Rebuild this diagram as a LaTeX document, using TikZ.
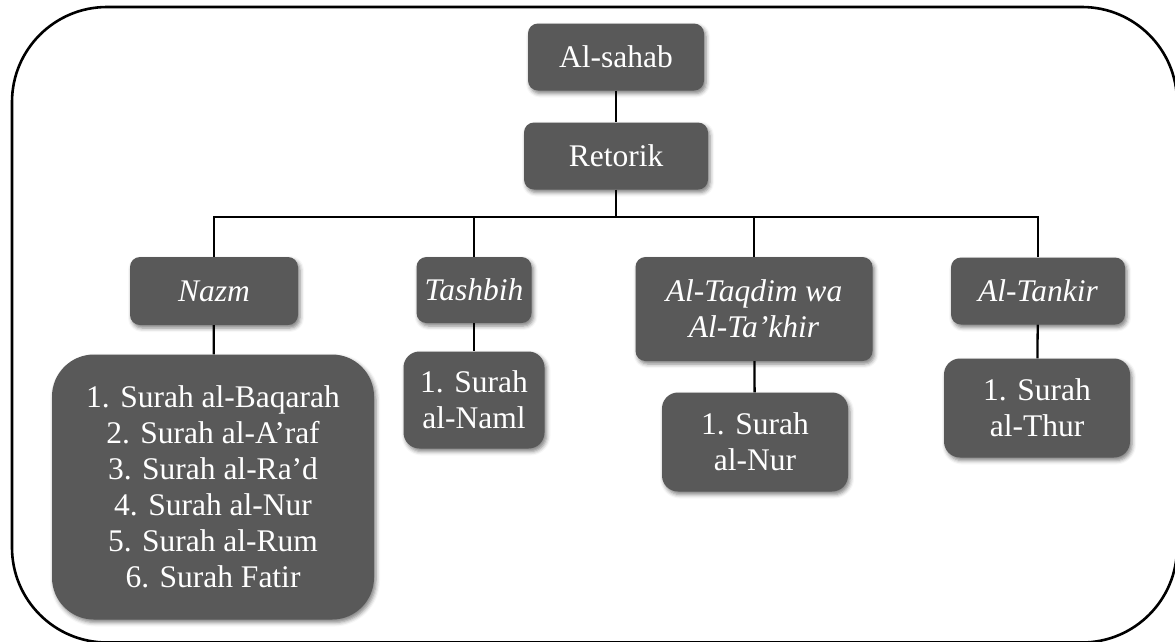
\documentclass[tikz,border=0pt]{standalone}
\usepackage{fontspec}
\setmainfont{Liberation Serif}
\usetikzlibrary{shadows,shadows.blur}
\definecolor{boxgray}{HTML}{595959}
\tikzset{
  orgbox/.style={draw=none, fill=boxgray, text=white, rounded corners=10pt,
    inner sep=0pt, align=center,
    font=\fontsize{31.5}{36}\selectfont,
    blur shadow={shadow xshift=2pt, shadow yshift=-3pt, shadow blur radius=4pt, shadow opacity=50}},
  subbox/.style={orgbox, rounded corners=16pt},
  link/.style={draw=black, line width=2.3pt},
  frame/.style={draw=black, line width=2.6pt, rounded corners=95pt}
}
\begin{document}
\begin{tikzpicture}[x=1pt, y=-1pt]
\useasboundingbox (0,0) rectangle (1175,641);
\draw[frame] (12,7) rectangle (1177,642.5);

\node[orgbox, minimum width=176pt, minimum height=67pt] (sahab) at (616,57) {Al-sahab};
\node[orgbox, minimum width=184pt, minimum height=67pt] (retorik) at (616,156) {Retorik};

\node[orgbox, minimum width=168pt, minimum height=68pt] (nazm) at (214,291) {\itshape Nazm};
\node[orgbox, minimum width=115pt, minimum height=66pt] (tashbih) at (474,290) {\itshape Tashbih};
\node[orgbox, minimum width=237pt, minimum height=104pt] (taqdim) at (754,309) {\itshape Al-Taqdim wa\\\itshape Al-Ta’khir};
\node[orgbox, minimum width=174pt, minimum height=67pt] (tankir) at (1038,291) {\itshape Al-Tankir};

\node[orgbox, rounded corners=42pt, minimum width=322pt, minimum height=265pt] (list) at (213,487)
  {1. Surah al-Baqarah\\2. Surah al-A’raf\\3. Surah al-Ra’d\\4. Surah al-Nur\\5. Surah al-Rum\\6. Surah Fatir};
\node[subbox, minimum width=141pt, minimum height=97pt] (naml) at (474,400) {1. Surah\\al-Naml};
\node[subbox, minimum width=186pt, minimum height=99pt] (nur) at (755,442) {1. Surah\\al-Nur};
\node[subbox, minimum width=186pt, minimum height=99pt] (thur) at (1037,408) {1. Surah\\al-Thur};

\coordinate (bar) at (616,217);
\draw[link] (sahab) -- (retorik);
\draw[link] (retorik) -- (bar);
\draw[link] (nazm.north) -- (nazm.north |- bar) -- (tankir.north |- bar) -- (tankir.north);
\draw[link] (tashbih.north) -- (tashbih.north |- bar);
\draw[link] (taqdim.north) -- (taqdim.north |- bar);
\draw[link] (nazm) -- (list);
\draw[link] (tashbih) -- (naml);
\draw[link] (taqdim) -- (nur);
\draw[link] (tankir) -- (thur);
\end{tikzpicture}
\end{document}
